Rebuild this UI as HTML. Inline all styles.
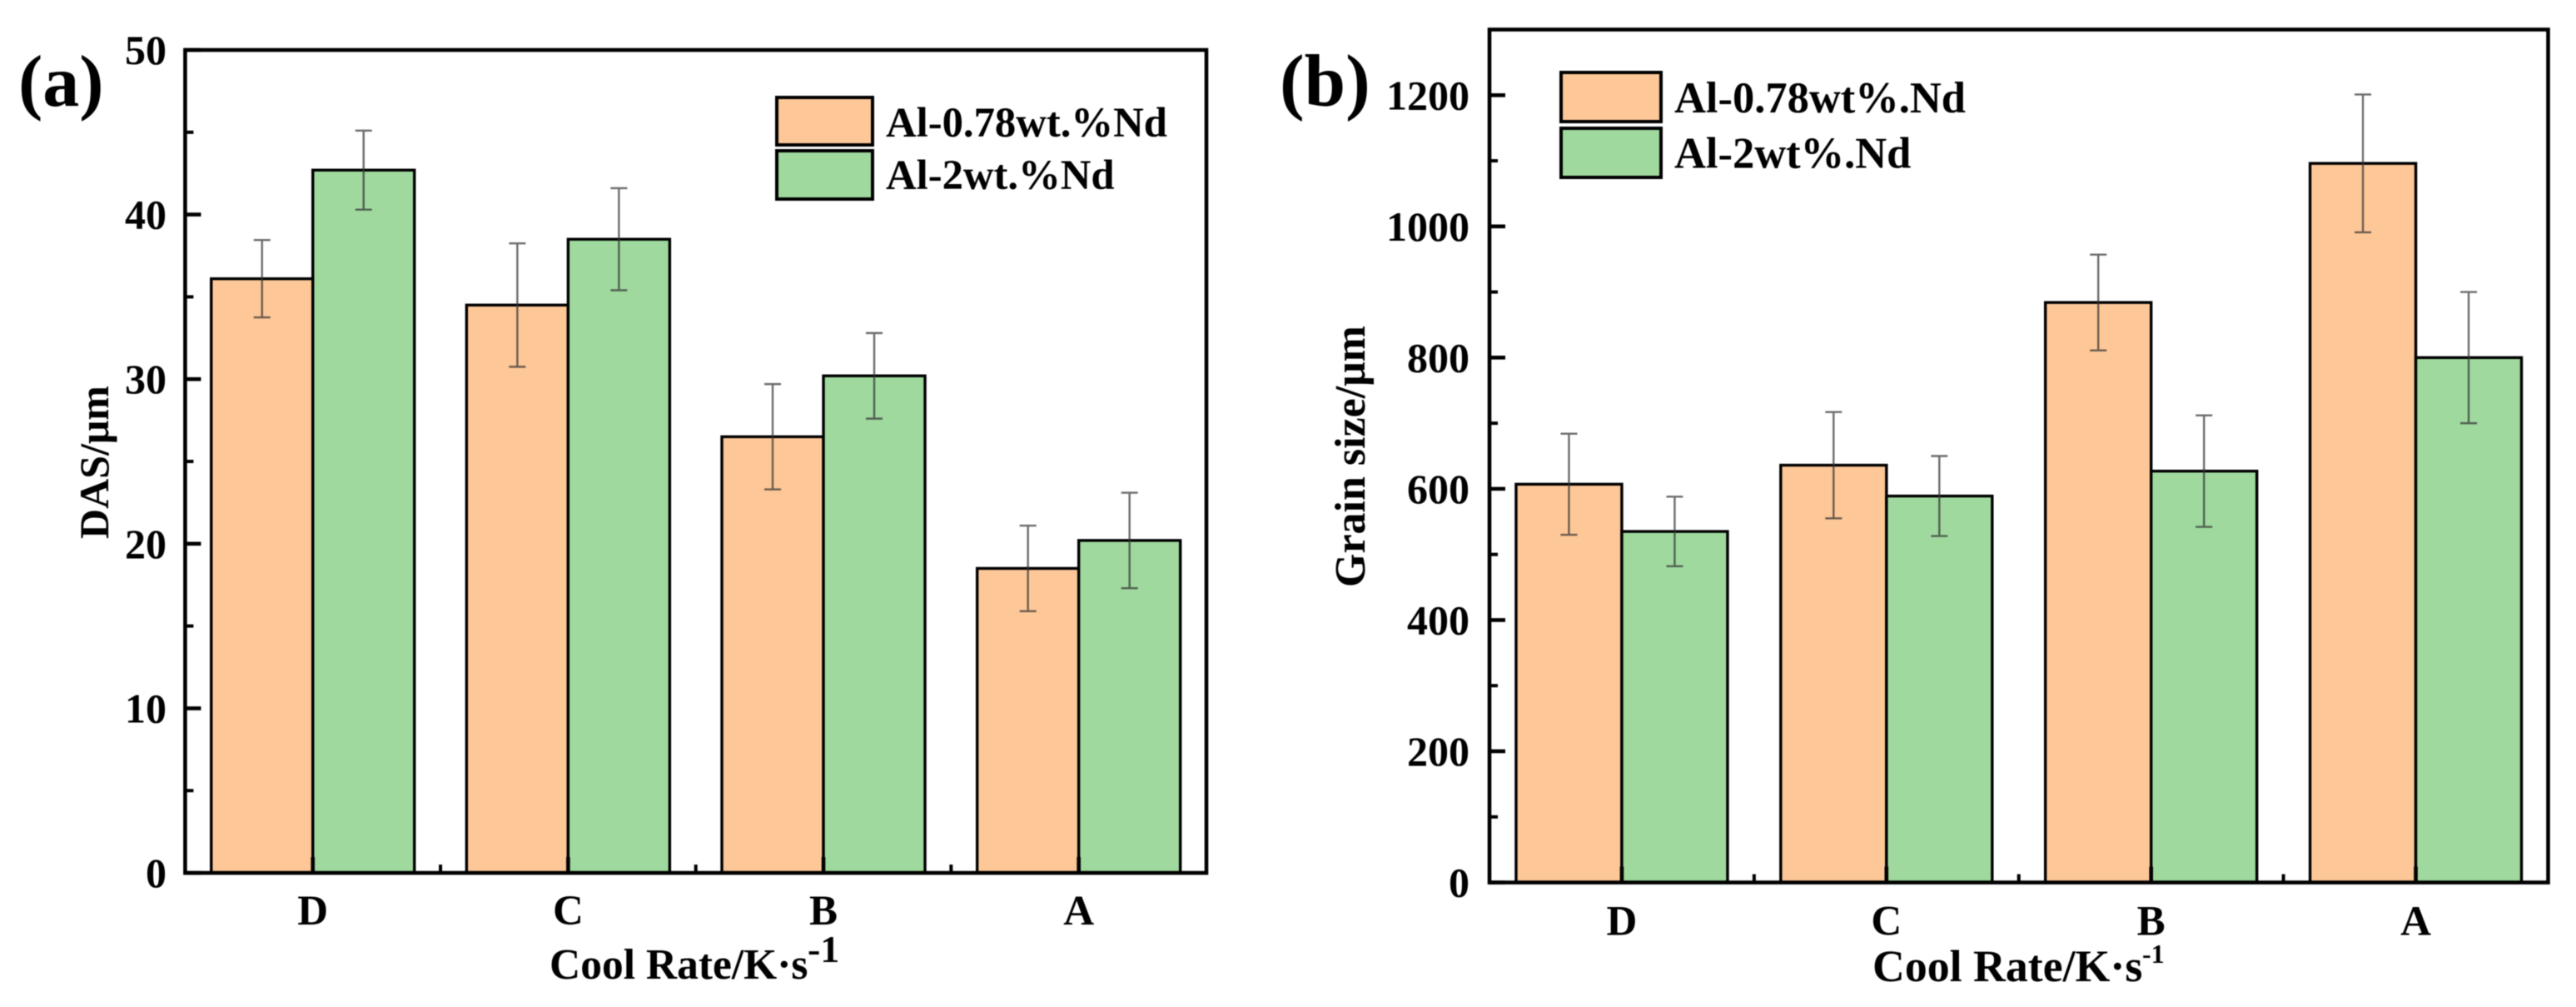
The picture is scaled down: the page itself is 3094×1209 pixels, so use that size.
<!DOCTYPE html>
<html lang="en">
<head>
<meta charset="utf-8">
<title>DAS and grain size versus cool rate</title>
<style>
html,body{margin:0;padding:0;background:#fff;width:3094px;height:1209px;overflow:hidden}
svg{display:block;filter:blur(0.6px)}
text{font-family:"Liberation Serif",serif;font-weight:700;fill:#000}
</style>
</head>
<body>
<svg id="figure" xmlns="http://www.w3.org/2000/svg" width="3094" height="1209" viewBox="0 0 3094 1209">
  <rect x="0" y="0" width="3094" height="1209" fill="#fff"/>
  <text x="22" y="127" font-size="88">(a)</text>
  <text x="1537" y="127" font-size="89">(b)</text>

  <text transform="translate(130,555) rotate(-90)" text-anchor="middle" font-size="50">DAS/μm</text>
  <text transform="translate(1639,548) rotate(-90)" text-anchor="middle" font-size="52">Grain size/μm</text>

  <text x="660" y="1175" font-size="51.5">Cool Rate/K·s</text>
  <text x="970" y="1155" font-size="46">-1</text>
  <text x="2249" y="1178" font-size="53.8">Cool Rate/K·s</text>
  <text x="2573" y="1156" font-size="32">-1</text>

  <g id="panel-a"></g>
  <g id="panel-b"></g>

  <g>
    <rect x="933" y="117" width="115" height="57" fill="#fdc797" stroke="#000" stroke-width="4"/>
    <rect x="933" y="181" width="115" height="58" fill="#9fd99e" stroke="#000" stroke-width="4"/>
    <text x="1064" y="164" font-size="50.7">Al-0.78wt.%Nd</text>
    <text x="1064" y="227" font-size="50.7">Al-2wt.%Nd</text>
  </g>
  <g>
    <rect x="1875" y="87" width="120" height="59" fill="#fdc797" stroke="#000" stroke-width="4"/>
    <rect x="1875" y="154" width="120" height="59" fill="#9fd99e" stroke="#000" stroke-width="4"/>
    <text x="2011" y="135" font-size="52.5">Al-0.78wt%.Nd</text>
    <text x="2011" y="201.5" font-size="52.5">Al-2wt%.Nd</text>
  </g>
</svg>
<script>
const categories = ["D", "C", "B", "A"];

const dasLowNd = [36.1, 34.5, 26.5, 18.5];
const dasHighNd = [42.7, 38.5, 30.2, 20.2];
const dasLowNdErr = [2.35, 3.75, 3.2, 2.6];
const dasHighNdErr = [2.4, 3.1, 2.6, 2.9];
const dasTicks = [0, 10, 20, 30, 40, 50];
const dasMinorTicks = [5, 15, 25, 35, 45];

const grainLowNd = [607, 636, 884, 1096];
const grainHighNd = [535, 589, 627, 800];
const grainLowNdErr = [77, 81, 73, 105];
const grainHighNdErr = [53, 61, 85, 100];
const grainTicks = [0, 200, 400, 600, 800, 1000, 1200];
const grainMinorTicks = [100, 300, 500, 700, 900, 1100];

const SVG_NS = "http://www.w3.org/2000/svg";
const ORANGE = "#fdc797";
const GREEN = "#9fd99e";

function make(tag, parent, attrs) {
  const el = document.createElementNS(SVG_NS, tag);
  for (const k in attrs) el.setAttribute(k, attrs[k]);
  parent.appendChild(el);
  return el;
}

function drawPanel(opt) {
  const g = document.getElementById(opt.id);
  const box = opt.box;
  const xCenter = i => box.left + (i + 0.5) * (box.right - box.left) / categories.length;
  const xEdge = i => box.left + i * (box.right - box.left) / categories.length;
  const y = v => box.bottom - (v / opt.yMax) * (box.bottom - box.top);
  const zero = y(0);

  const seriesList = [
    { values: opt.low, errors: opt.lowErr, fill: ORANGE, side: -1 },
    { values: opt.high, errors: opt.highErr, fill: GREEN, side: 0 }
  ];

  seriesList.forEach(function (s, si) {
    s.values.forEach(function (v, i) {
      const left = xCenter(i) + s.side * opt.barWidth;
      const bar = make("rect", g, { x: left, y: y(v), width: opt.barWidth, height: zero - y(v), fill: s.fill, stroke: "#000", "stroke-width": 3.4 });
      
      
    });
  });

  seriesList.forEach(function (s, si) {
    s.values.forEach(function (v, i) {
      const cx = xCenter(i) + s.side * opt.barWidth + opt.barWidth / 2;
      const hi = y(v + s.errors[i]);
      const lo = y(v - s.errors[i]);
      const err = make("path", g, {
        d: "M" + (cx - 10) + " " + hi + "H" + (cx + 10) + "M" + cx + " " + hi + "V" + lo + "M" + (cx - 10) + " " + lo + "H" + (cx + 10),
        fill: "none", stroke: "#333", "stroke-opacity": 0.72, "stroke-width": 2.4
      });
      
      
    });
  });

  const frame = make("rect", g, { x: box.left, y: box.top, width: box.right - box.left, height: box.bottom - box.top, fill: "none", stroke: "#000", "stroke-width": 4.6 });
  
  

  opt.ticks.forEach(function (t) {
    const line = make("line", g, { x1: box.left, x2: box.left + 19, y1: y(t), y2: y(t), stroke: "#000", "stroke-width": 4.6 });
    
    
    const label = make("text", g, { x: opt.labelX, y: y(t) + 17, "text-anchor": "end", "font-size": 50 });
    label.textContent = t;
    
    
  });

  opt.minorTicks.forEach(function (t) {
    const line = make("line", g, { x1: box.left, x2: box.left + 10, y1: y(t), y2: y(t), stroke: "#000", "stroke-width": 4 });
    
    
  });

  categories.forEach(function (c, i) {
    const line = make("line", g, { x1: xCenter(i), x2: xCenter(i), y1: zero, y2: zero - 19, stroke: "#000", "stroke-width": 4.6 });
    
    
    const label = make("text", g, { x: xCenter(i), y: opt.xLabelY, "text-anchor": "middle", "font-size": 51 });
    label.textContent = c;
    
    
    if (i > 0) {
      const minor = make("line", g, { x1: xEdge(i), x2: xEdge(i), y1: zero, y2: zero - 10, stroke: "#000", "stroke-width": 4 });
      
      
    }
  });
}

drawPanel({
  id: "panel-a",
  box: { left: 222.4, right: 1449, top: 60, bottom: 1048 },
  yMax: 50,
  barWidth: 122,
  low: dasLowNd,
  high: dasHighNd,
  lowErr: dasLowNdErr,
  highErr: dasHighNdErr,
  ticks: dasTicks,
  minorTicks: dasMinorTicks,
  labelX: 200,
  xLabelY: 1110
});

drawPanel({
  id: "panel-b",
  box: { left: 1789, right: 3060.5, top: 35.5, bottom: 1059.5 },
  yMax: 1300,
  barWidth: 127,
  low: grainLowNd,
  high: grainHighNd,
  lowErr: grainLowNdErr,
  highErr: grainHighNdErr,
  ticks: grainTicks,
  minorTicks: grainMinorTicks,
  labelX: 1765,
  xLabelY: 1122.5
});
</script>
</body>
</html>
